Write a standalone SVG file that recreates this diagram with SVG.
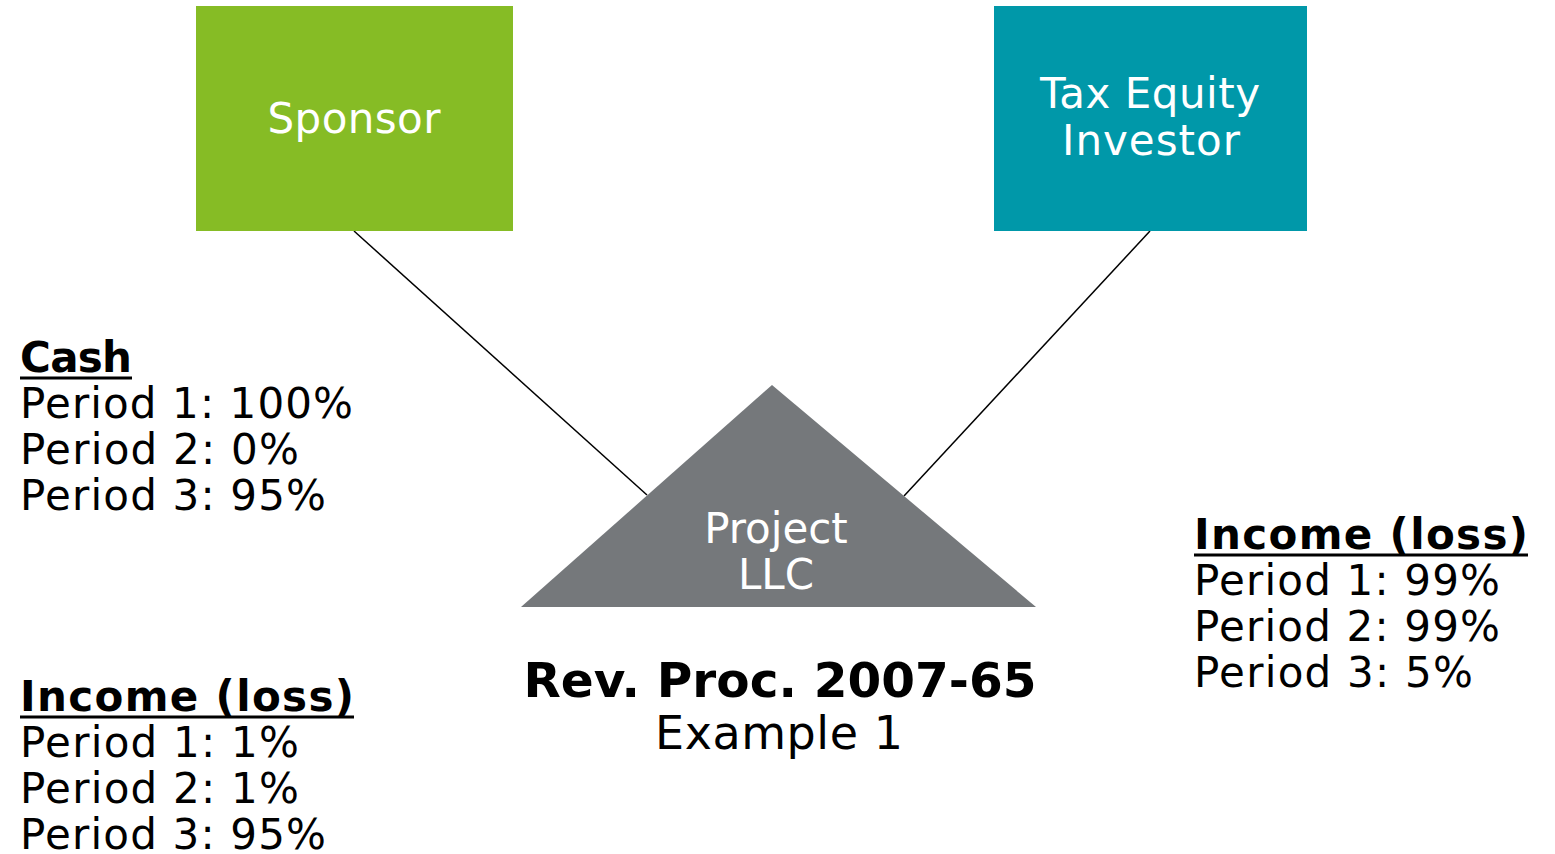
<svg xmlns="http://www.w3.org/2000/svg" width="1555" height="854" viewBox="0 0 1555 854">
  <style>
    text { font-family: "DejaVu Sans", Verdana, sans-serif; font-size: 42px; }
    .label { fill: #ffffff; text-anchor: middle; }
    .body { fill: #000000; }
    .head { fill: #000000; font-weight: bold; }
    .rule { stroke: #000000; stroke-width: 3; }
    .title { fill: #000000; text-anchor: middle; font-weight: bold; font-size: 48px; }
    .subtitle { fill: #000000; text-anchor: middle; font-size: 46px; }
    .link { stroke: #000000; stroke-width: 1.5; fill: none; }
  </style>
  <rect width="1555" height="854" fill="#ffffff"/>

  <!-- connectors from each partner down to the partnership -->
  <g id="connectors">
    <line class="link" x1="354" y1="231" x2="647" y2="495"/>
    <line class="link" x1="1150" y1="231" x2="904" y2="496"/>
  </g>

  <g id="sponsor">
    <rect x="196" y="6" width="317" height="225" fill="#86bc25"/>
    <text class="label" x="354" y="133" textLength="173" lengthAdjust="spacing">Sponsor</text>
  </g>

  <g id="tax-equity-investor">
    <rect x="994" y="6" width="313" height="225" fill="#0098a9"/>
    <text class="label" x="1150" y="108" textLength="220" lengthAdjust="spacing">Tax Equity</text>
    <text class="label" x="1151" y="155" textLength="178" lengthAdjust="spacing">Investor</text>
  </g>

  <g id="project-llc">
    <polygon points="772,385 1036,607 521,607" fill="#75787b"/>
    <text class="label" x="776" y="543">Project</text>
    <text class="label" x="776" y="589">LLC</text>
  </g>

  <g id="caption">
    <text class="title" x="780" y="697" textLength="513" lengthAdjust="spacingAndGlyphs">Rev. Proc. 2007-65</text>
    <text class="subtitle" x="779" y="749" textLength="248" lengthAdjust="spacing">Example 1</text>
  </g>

  <g id="sponsor-cash">
    <text class="head" x="20" y="372" textLength="112" lengthAdjust="spacing">Cash</text>
    <line class="rule" x1="20" y1="378" x2="132" y2="378"/>
    <text class="body" x="20" y="418" textLength="333" lengthAdjust="spacing">Period 1: 100%</text>
    <text class="body" x="20" y="464" textLength="279" lengthAdjust="spacing">Period 2: 0%</text>
    <text class="body" x="20" y="510" textLength="306" lengthAdjust="spacing">Period 3: 95%</text>
  </g>

  <g id="sponsor-income">
    <text class="head" x="20" y="711" textLength="334" lengthAdjust="spacing">Income (loss)</text>
    <line class="rule" x1="20" y1="717" x2="354" y2="717"/>
    <text class="body" x="20" y="757" textLength="279" lengthAdjust="spacing">Period 1: 1%</text>
    <text class="body" x="20" y="803" textLength="279" lengthAdjust="spacing">Period 2: 1%</text>
    <text class="body" x="20" y="849" textLength="306" lengthAdjust="spacing">Period 3: 95%</text>
  </g>

  <g id="investor-income">
    <text class="head" x="1194" y="549" textLength="334" lengthAdjust="spacing">Income (loss)</text>
    <line class="rule" x1="1194" y1="555" x2="1528" y2="555"/>
    <text class="body" x="1194" y="595" textLength="306" lengthAdjust="spacing">Period 1: 99%</text>
    <text class="body" x="1194" y="641" textLength="306" lengthAdjust="spacing">Period 2: 99%</text>
    <text class="body" x="1194" y="687" textLength="279" lengthAdjust="spacing">Period 3: 5%</text>
  </g>
</svg>
